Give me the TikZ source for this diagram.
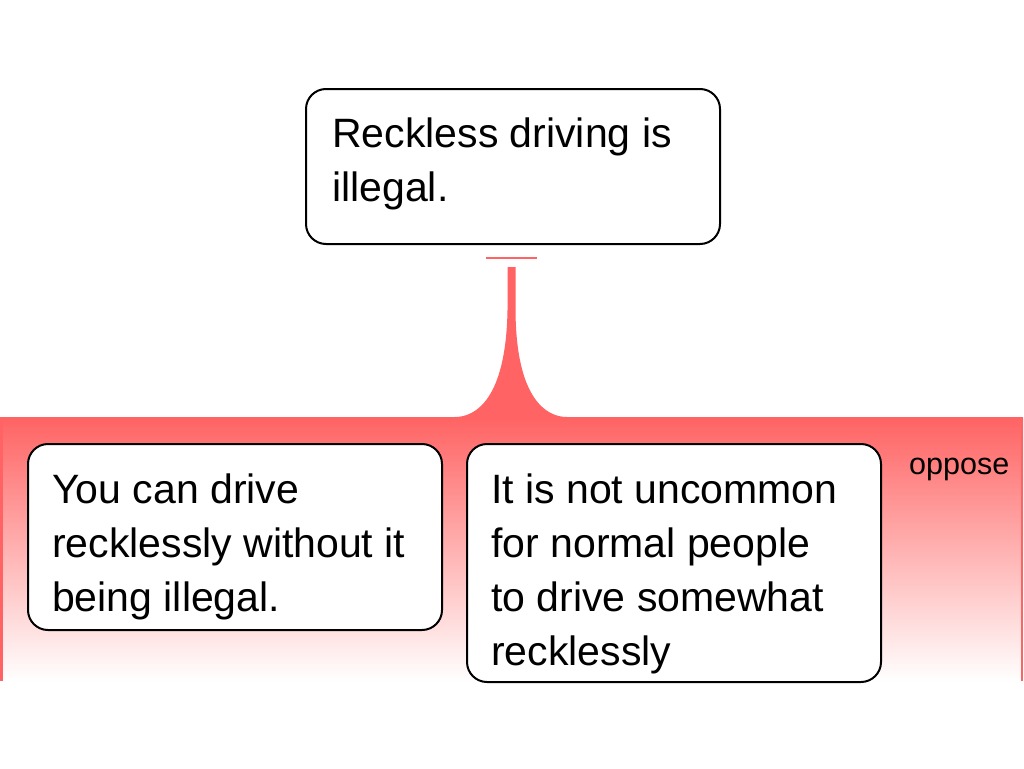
\documentclass[tikz,border=0pt]{standalone}
\usepackage{fontspec}
\setmainfont{Liberation Sans}
\definecolor{oppred}{RGB}{255,99,99}
\tikzset{
  claimbox/.style={draw=black, line width=2pt, fill=white, rounded corners=20pt,
    rectangle, inner sep=0pt, anchor=north west},
  claimtext/.style={anchor=base west, inner sep=0pt, align=left,
    font=\fontsize{41}{54}\selectfont},
}
\begin{document}
\begin{tikzpicture}[x=1pt,y=-1pt]
\useasboundingbox (0,0) rectangle (1024,768);
% band with gradient
\shade[top color=oppred, bottom color=white] (1,417) rectangle (1023,681);
\draw[oppred, line width=2.5pt] (1.5,417) -- (1.5,681);
\draw[oppred, line width=2.5pt] (1022,417) -- (1022,681);
% stem and flare
\fill[oppred] (507.5,267) -- (507.5,310)
  .. controls (506,400) and (475,417) .. (455,417)
  -- (567,417)
  .. controls (547,417) and (516,400) .. (515.5,310)
  -- (515.5,267) -- cycle;
% bar
\coordinate (barL) at (486,258);
\coordinate (barR) at (537,258);
\draw[oppred, line width=2pt] (barL) -- (barR);
% boxes
\node[claimbox, minimum width=414pt, minimum height=155pt] (top) at (305,88) {};
\node[claimbox, minimum width=414pt, minimum height=186pt] (left) at (27,443) {};
\node[claimbox, minimum width=414pt, minimum height=238pt] (right) at (466,443) {};
% texts (anchored at the baseline of the last line)
\node[claimtext] (ttop) at (332,201.5) {Reckless driving is\\illegal.};
\node[claimtext] (tleft) at (52,611.5) {You can drive\\recklessly without it\\being illegal.};
\node[claimtext] (tright) at (491,665) {It is not uncommon\\for normal people\\to drive somewhat\\recklessly};
\node[anchor=base west, inner sep=0pt, font=\fontsize{30.5}{36}\selectfont] (opp) at (909,474) {oppose};
\end{tikzpicture}
\end{document}
